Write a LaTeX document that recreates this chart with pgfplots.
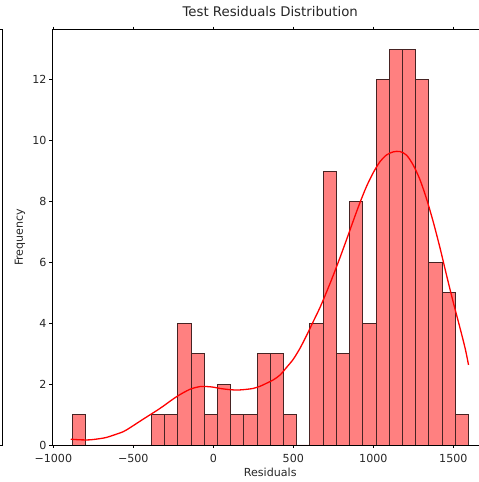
\documentclass[border=0pt]{standalone}
\usepackage{pgfplots}
\pgfplotsset{compat=1.18}
\usepackage{fontspec}
\setmainfont{DejaVu Sans}
\definecolor{barfill}{RGB}{255,128,128}
\definecolor{baredge}{RGB}{70,35,35}
\begin{document}
\begin{tikzpicture}
\useasboundingbox (0pt,0pt) rectangle (479pt,482pt);
\clip (0pt,0pt) rectangle (479pt,482pt);
% fragment of the neighbouring subplot (its right spine)
\begin{axis}[
  at={(2pt,37pt)}, anchor=south east,
  scale only axis, width=300pt, height=415.5pt,
  xmin=0, xmax=1, ymin=0, ymax=1,
  ticks=none, axis line style={black, line width=0.64pt},
]
\end{axis}
\begin{axis}[
  at={(52.2pt,37pt)}, anchor=south west,
  scale only axis, width=436pt, height=415.5pt,
  xmin=-1007, xmax=1718, ymin=0, ymax=13.65,
  axis line style={black, line width=0.64pt},
  tick align=outside, major tick length=2.8pt,
  tick style={black, line width=0.64pt},
  xtick={-1000,-500,0,500,1000,1500},
  xticklabels={−1000,−500,0,500,1000,1500},
  ytick={0,2,4,6,8,10,12},
  yticklabels={0,2,4,6,8,10,12},
  ticklabel style={font=\fontsize{11.1}{13}\selectfont, text=black!85},
  xticklabel style={anchor=north, inner sep=0pt, yshift=-6pt},
  yticklabel style={anchor=east, inner sep=0pt, xshift=-2.8pt},
  xlabel={Residuals},
  ylabel={Frequency},
  label style={font=\fontsize{11.1}{13}\selectfont, text=black!85},
  xlabel style={at={(axis description cs:0.5,0)}, anchor=north, inner sep=0pt, yshift=-23pt},
  ylabel style={at={(axis description cs:0,0.5)}, anchor=south, inner sep=0pt, yshift=26.7pt},
  title={Test Residuals Distribution},
  title style={font=\fontsize{13.3}{15}\selectfont, text=black!85, at={(axis description cs:0.5,1)}, anchor=south, inner sep=0pt, yshift=6.8pt},
]
\addplot[ybar interval, fill=barfill, draw=baredge, line width=0.9pt] coordinates {
(-883.0,1) (-800.4,0) (-717.8,0) (-635.2,0) (-552.6,0) (-470.0,0)
(-387.4,1) (-304.8,1) (-222.2,4) (-139.6,3) (-57.0,1) (25.6,2)
(108.2,1) (190.8,1) (273.4,3) (356.0,3) (438.6,1) (521.2,0)
(603.8,4) (686.4,9) (769.0,3) (851.6,8) (934.2,4) (1016.8,12)
(1099.4,13) (1182.0,13) (1264.6,12) (1347.2,6) (1429.8,5) (1512.4,1)
(1595.0,1)
};
\addplot[red, line width=1.3pt, smooth, no markers] coordinates {
(-891,0.19) (-830,0.17) (-771,0.17) (-708,0.21) (-667,0.25) (-620,0.33)
(-562,0.44) (-520,0.57) (-479,0.71) (-438,0.85) (-396,0.99) (-354,1.13)
(-312,1.28) (-270,1.44) (-229,1.59) (-187,1.72) (-146,1.83) (-110,1.89)
(-83,1.92) (-40,1.92) (0,1.90) (40,1.86) (83,1.83) (125,1.81) (167,1.81)
(210,1.83) (250,1.86) (292,1.93) (333,2.03) (375,2.14) (417,2.30)
(458,2.55) (500,2.82) (542,3.18) (583,3.60) (625,4.06) (667,4.52)
(708,5.03) (750,5.58) (792,6.16) (833,6.75) (875,7.37) (917,7.97)
(958,8.50) (1000,8.95) (1042,9.31) (1083,9.53) (1125,9.63) (1167,9.64)
(1208,9.52) (1250,9.19) (1292,8.71) (1333,8.08) (1375,7.32) (1417,6.47)
(1458,5.57) (1500,4.68) (1542,3.84) (1575,3.15) (1595,2.63)
};
\end{axis}
\end{tikzpicture}
\end{document}
